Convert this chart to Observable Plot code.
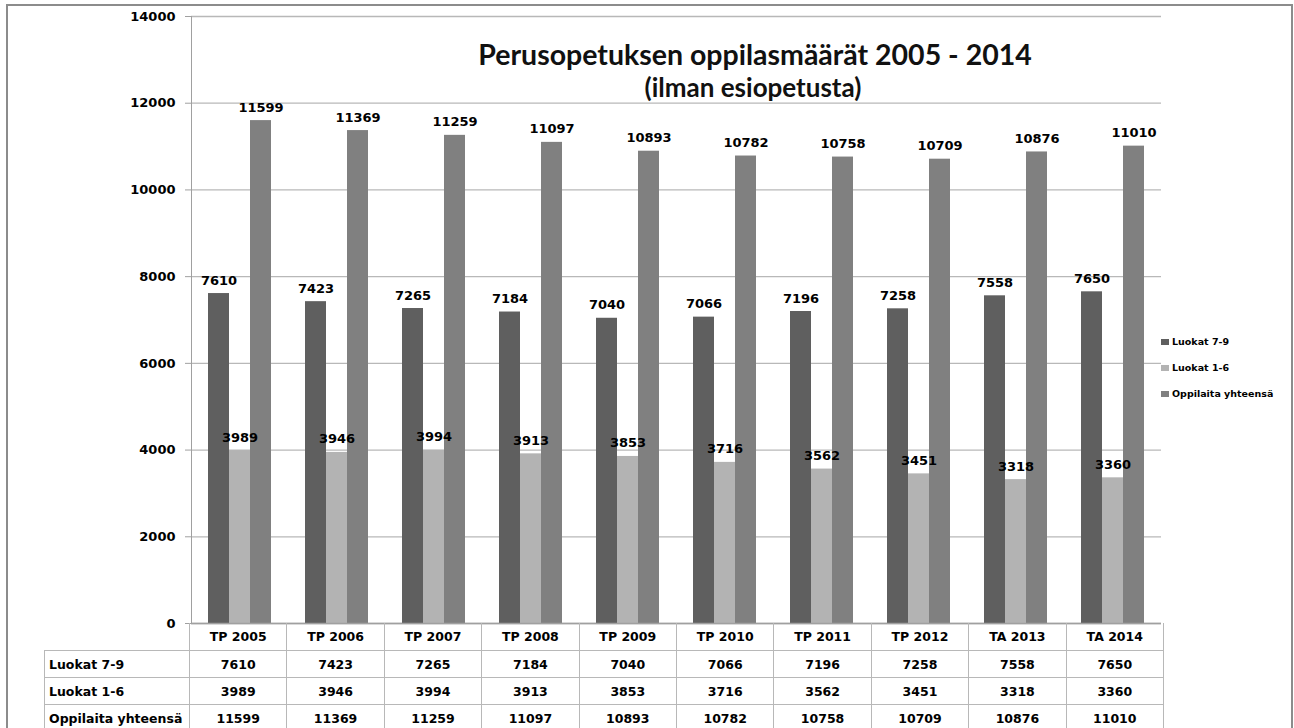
<!DOCTYPE html>
<html><head><meta charset="utf-8">
<script src="https://cdn.jsdelivr.net/npm/d3@7"></script>
<script src="https://cdn.jsdelivr.net/npm/@observablehq/plot@0.6"></script>
<style>
html,body{margin:0;padding:0;background:#fff;}
body{width:1294px;height:728px;overflow:hidden;position:relative;font-family:"DejaVu Sans",sans-serif;}
#frame{position:absolute;left:6px;top:4px;width:1287px;height:760px;border:2px solid #8c8c8c;box-sizing:border-box;}
#chart{position:absolute;left:0;top:0;}
.t1{position:absolute;left:455px;width:600px;top:37px;text-align:center;font-family:Lato;font-weight:bold;font-size:28.5px;line-height:34.2px;color:#111;white-space:nowrap;}
.t2{position:absolute;left:453px;width:600px;top:72px;text-align:center;font-family:Lato;font-weight:bold;font-size:26px;line-height:31.2px;color:#111;white-space:nowrap;}
#legend{position:absolute;left:1161px;top:335px;font-family:"DejaVu Sans";font-weight:bold;font-size:9.5px;color:#000;}
#legend .item{height:26px;line-height:14px;white-space:nowrap;}
#legend .sw{display:inline-block;width:8px;height:6px;margin-right:3px;vertical-align:0px;}
#tbl{position:absolute;top:623px;left:0;font-family:"DejaVu Sans";font-weight:bold;font-size:12.5px;color:#000;}
#tbl .c{position:absolute;box-sizing:border-box;text-align:center;white-space:nowrap;}
</style></head>
<body>
<div id="chart"></div>
<div id="frame"></div>
<div class="t1">Perusopetuksen oppilasmäärät 2005 - 2014</div>
<div class="t2">(ilman esiopetusta)</div>
<div id="legend"></div>
<div id="tbl"></div>
<script>
const categories = ["TP 2005","TP 2006","TP 2007","TP 2008","TP 2009","TP 2010","TP 2011","TP 2012","TA 2013","TA 2014"];
const seriesNames = ["Luokat 7-9","Luokat 1-6","Oppilaita yhteensä"];
const luokat79 = [7610,7423,7265,7184,7040,7066,7196,7258,7558,7650];
const luokat16 = [3989,3946,3994,3913,3853,3716,3562,3451,3318,3360];
const yhteensa = [11599,11369,11259,11097,10893,10782,10758,10709,10876,11010];
const yTicks = [0,2000,4000,6000,8000,10000,12000,14000];
const seriesColors = ["#5f5f5f","#b3b3b3","#808080"];

const seriesValues = [luokat79, luokat16, yhteensa];
const rows = [];
categories.forEach((c,i)=>seriesValues.forEach((arr,j)=>rows.push({category:c, series:seriesNames[j], value:arr[i]})));

const W = 1294, mL = 189, mR = 131;
const plot = Plot.plot({
  width: W, height: 625, marginTop: 16, marginBottom: 2, marginLeft: mL, marginRight: mR,
  fx: {domain: categories, paddingInner: 0, paddingOuter: 0, axis: null, label: null},
  x: {domain: seriesNames, paddingInner: 0, paddingOuter: 0.786, axis: null},
  y: {domain: [0, 14000]},
  color: {domain: seriesNames, range: seriesColors},
  style: {fontFamily: "DejaVu Sans", fontWeight: "bold", fontSize: "13px", color: "#000", background: "transparent", overflow: "visible"},
  marks: [
    Plot.gridY(yTicks, {stroke: "#b8b8b8", strokeOpacity: 1, strokeWidth: 1.3}),
    Plot.barY(rows, {fx: "category", x: "series", y: "value", fill: "series"}),
    Plot.text(rows, {fx: "category", x: "series", y: "value", text: d => String(d.value), dy: -9, lineAnchor: "bottom", fill: "#000", fontSize: 13, fontWeight: "bold"}),
    Plot.axisY(yTicks, {anchor: "left", tickSize: 6, tickPadding: 10, stroke: "#a0a0a0", fill: "#000", fontSize: 13, fontWeight: "bold", tickFormat: d => String(d), label: null}),
    Plot.frame({anchor: "left", facetAnchor: "left", stroke: "#a0a0a0"}),
    Plot.ruleY([0], {stroke: "#a0a0a0", strokeWidth: 1.3})
  ]
});
document.getElementById("chart").appendChild(plot);

// legend
const leg = document.getElementById("legend");
seriesNames.forEach((s,i)=>{
  const d = document.createElement("div"); d.className = "item";
  d.innerHTML = `<span class="sw" style="background:${seriesColors[i]}"></span>${s}`;
  leg.appendChild(d);
});

// data table aligned with the fx bands
const bw = (W - mL - mR) / categories.length;
const tbl = document.getElementById("tbl");
const rowH = 27, headH = 27, labelLeft = 44, bc = "#b8b8b8";
function cell(x, y, w, h, text, css) {
  const d = document.createElement("div"); d.className = "c";
  Object.assign(d.style, {left: x + "px", top: y + "px", width: w + "px", height: h + "px", lineHeight: h + "px"}, css || {});
  d.textContent = text; tbl.appendChild(d);
}
categories.forEach((c,i)=>{
  cell(mL + i*bw, 0, bw + 1, headH, c, {borderLeft: `1.3px solid ${bc}`, borderRight: `1.3px solid ${bc}`});
});
seriesValues.forEach((arr,j)=>{
  const y = headH + j*rowH;
  cell(labelLeft, y, mL - labelLeft + 1, rowH + 1, seriesNames[j], {border: `1.3px solid ${bc}`, textAlign: "left", paddingLeft: "4px"});
  arr.forEach((v,i)=>cell(mL + i*bw, y, bw + 1, rowH + 1, String(v), {border: `1.3px solid ${bc}`}));
});
</script>
</body></html>
